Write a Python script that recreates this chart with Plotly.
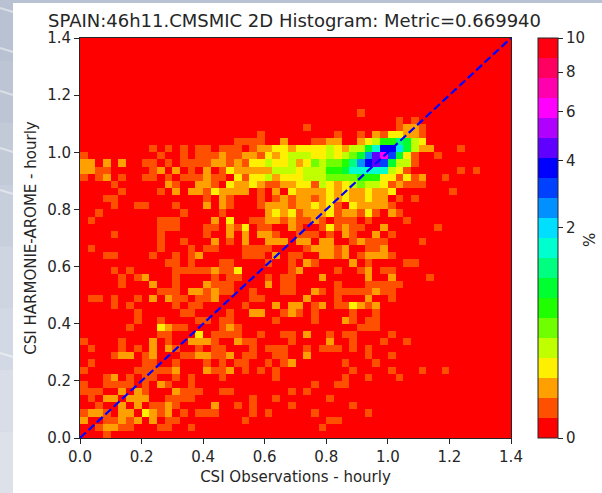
import plotly.graph_objects as go

TITLE = "SPAIN:46h11.CMSMIC 2D Histogram: Metric=0.669940"
X_LABEL = "CSI Observations - hourly"
Y_LABEL = "CSI HARMONIE-AROME - hourly"
AXIS_TICKS = [0.0, 0.2, 0.4, 0.6, 0.8, 1.0, 1.2, 1.4]
CBAR_TICKS = [0, 2, 4, 6, 8, 10]
DIAG_X = [0.0, 1.4]
DIAG_Y = [0.0, 1.4]
N_BINS = 56
BIN_W = 0.025
GAMMA = 0.4
BAND_COLORS = ["#ff0000", "#ff5000", "#ffa000", "#ffef00", "#bfff00", "#70ff00", "#20ff00",
               "#00ff30", "#00ff80", "#00ffcf", "#00dfff", "#0090ff", "#0040ff", "#0000ff",
               "#6000ff", "#b000ff", "#ff00ff", "#ff00af", "#ff0060", "#ff0010"]

# colour band of each non-empty bin: row (from the top) -> {column: band}
BINS = {
    10: {36: 1},
    11: {41: 1, 43: 1},
    12: {29: 1, 41: 1, 42: 2, 43: 2, 44: 1},
    13: {23: 1, 33: 1, 36: 1, 38: 2, 39: 1, 40: 3, 41: 3, 42: 2, 43: 2, 44: 1},
    14: {20: 1, 21: 1, 22: 1, 23: 1, 26: 2, 30: 1, 31: 1, 32: 2, 33: 2, 36: 2, 37: 3, 38: 4, 39: 6, 40: 6, 41: 8, 42: 7, 43: 4, 44: 3},
    15: {9: 1, 11: 1, 13: 1, 15: 1, 16: 1, 18: 1, 19: 1, 20: 1, 22: 1, 23: 2, 24: 2, 25: 3, 26: 3, 27: 2, 28: 3, 29: 3, 30: 3, 31: 3, 32: 4, 33: 3, 34: 2, 35: 4, 36: 4, 37: 7, 38: 9, 39: 13, 40: 13, 41: 10, 42: 7, 43: 4, 44: 2, 45: 2, 49: 1},
    16: {0: 1, 10: 1, 13: 1, 15: 1, 16: 1, 17: 1, 18: 2, 19: 1, 20: 1, 21: 2, 22: 2, 23: 1, 24: 3, 25: 2, 26: 3, 27: 4, 28: 4, 29: 4, 30: 3, 31: 3, 32: 4, 33: 3, 34: 4, 35: 5, 36: 7, 37: 11, 38: 14, 39: 16, 40: 12, 41: 7, 42: 3, 43: 1, 46: 1},
    17: {0: 2, 1: 2, 3: 2, 5: 2, 8: 1, 9: 1, 11: 1, 13: 1, 14: 1, 15: 1, 16: 1, 17: 2, 18: 2, 19: 1, 20: 2, 21: 1, 22: 3, 23: 3, 24: 4, 25: 3, 26: 3, 27: 4, 28: 2, 29: 3, 30: 5, 31: 4, 32: 5, 33: 5, 34: 6, 35: 8, 36: 11, 37: 13, 38: 14, 39: 12, 40: 7, 41: 4, 42: 4, 43: 1},
    18: {0: 2, 1: 2, 2: 1, 3: 1, 9: 1, 10: 2, 12: 2, 14: 1, 16: 2, 18: 1, 19: 3, 20: 2, 21: 2, 22: 2, 23: 2, 24: 2, 25: 4, 26: 4, 27: 4, 28: 3, 29: 4, 30: 4, 31: 4, 32: 6, 33: 6, 34: 7, 35: 9, 36: 9, 37: 9, 38: 9, 39: 9, 40: 4, 41: 3, 42: 1, 49: 1, 51: 1},
    19: {0: 1, 2: 1, 3: 2, 5: 1, 8: 1, 9: 1, 11: 1, 13: 1, 14: 1, 15: 1, 16: 2, 17: 1, 18: 1, 20: 3, 21: 1, 22: 3, 23: 3, 24: 4, 25: 2, 26: 3, 27: 3, 28: 3, 29: 4, 30: 4, 31: 4, 32: 5, 33: 5, 34: 5, 35: 5, 36: 6, 37: 6, 38: 6, 39: 3, 40: 3, 41: 1, 42: 3, 43: 1, 44: 2, 47: 1},
    20: {4: 1, 11: 2, 12: 1, 15: 2, 16: 2, 17: 1, 19: 3, 20: 2, 21: 2, 22: 3, 23: 2, 24: 1, 25: 1, 26: 2, 27: 2, 28: 3, 29: 3, 30: 1, 31: 4, 32: 3, 33: 2, 34: 3, 35: 4, 36: 5, 37: 4, 38: 4, 39: 3, 40: 1, 41: 2, 42: 1, 43: 1, 44: 1},
    21: {5: 1, 10: 1, 12: 2, 14: 2, 15: 2, 16: 1, 17: 3, 18: 2, 19: 2, 20: 2, 21: 2, 23: 1, 25: 2, 27: 3, 28: 2, 29: 2, 30: 2, 31: 2, 32: 3, 33: 2, 34: 3, 35: 2, 36: 2, 37: 3, 38: 2, 39: 2, 40: 3, 48: 1},
    22: {3: 1, 4: 1, 16: 1, 18: 2, 19: 1, 23: 1, 25: 1, 26: 2, 27: 1, 28: 2, 29: 2, 30: 1, 31: 2, 32: 3, 33: 2, 34: 3, 35: 2, 36: 2, 37: 3, 38: 2, 39: 2, 41: 1, 43: 1},
    23: {4: 1, 7: 1, 8: 1, 12: 1, 16: 2, 18: 2, 19: 1, 23: 1, 24: 2, 25: 2, 26: 2, 27: 1, 28: 2, 29: 2, 30: 3, 31: 2, 32: 3, 33: 1, 35: 3, 36: 2, 37: 2, 38: 2, 39: 2, 40: 1},
    24: {2: 1, 13: 1, 18: 1, 24: 2, 25: 3, 26: 2, 27: 3, 28: 1, 29: 2, 30: 2, 31: 2, 32: 3, 33: 1, 34: 2, 35: 2, 36: 1, 37: 3, 38: 1, 40: 2, 41: 1},
    25: {1: 1, 10: 1, 11: 1, 12: 1, 17: 2, 19: 3, 22: 1, 23: 1, 24: 2, 25: 2, 26: 1, 27: 2, 28: 1, 29: 1, 30: 2, 31: 1, 33: 1, 34: 1, 35: 1, 37: 1, 42: 1},
    26: {10: 1, 11: 1, 12: 1, 16: 1, 17: 1, 19: 2, 20: 1, 21: 3, 23: 1, 24: 1, 27: 2, 28: 1, 31: 1, 32: 3, 33: 1, 34: 2, 35: 1, 36: 1, 39: 2, 46: 1},
    27: {4: 1, 10: 1, 16: 1, 19: 2, 21: 2, 23: 2, 24: 2, 25: 1, 28: 1, 29: 1, 30: 1, 32: 1, 34: 2, 35: 1, 38: 2, 40: 1},
    28: {10: 1, 13: 1, 17: 2, 19: 1, 21: 2, 24: 2, 25: 2, 26: 2, 28: 2, 29: 2, 31: 2, 32: 2, 35: 1, 36: 2, 37: 1, 38: 1, 39: 1, 44: 1},
    29: {1: 1, 10: 1, 14: 1, 16: 1, 17: 1, 21: 1, 22: 1, 23: 1, 24: 1, 29: 1, 30: 2, 31: 2, 32: 2, 33: 1, 34: 2, 37: 1, 38: 1, 39: 2},
    30: {3: 1, 4: 1, 9: 1, 12: 1, 14: 1, 15: 2, 21: 1, 22: 1, 23: 1, 25: 2, 27: 1, 28: 1, 31: 2, 32: 2, 33: 1, 34: 2, 36: 1, 37: 2, 38: 2, 39: 2, 40: 1},
    31: {11: 1, 12: 1, 14: 1, 18: 1, 19: 1, 24: 1, 27: 1, 29: 2, 30: 1, 35: 2, 37: 1, 42: 1, 43: 1},
    32: {4: 1, 6: 1, 12: 1, 13: 1, 14: 1, 15: 1, 16: 1, 17: 2, 18: 1, 19: 1, 20: 3, 27: 1, 28: 2, 33: 1, 36: 1, 37: 2, 39: 1, 40: 1},
    33: {5: 1, 7: 1, 8: 2, 12: 1, 17: 1, 19: 1, 20: 1, 24: 1, 26: 1, 27: 1, 31: 2, 37: 2, 40: 2, 45: 1},
    34: {5: 1, 9: 2, 12: 1, 16: 2, 17: 1, 18: 1, 19: 1, 24: 2, 26: 1, 27: 1, 33: 1, 37: 1, 38: 1, 39: 1, 40: 1, 41: 1},
    35: {10: 1, 11: 1, 12: 1, 14: 2, 15: 2, 16: 1, 17: 2, 18: 1, 19: 1, 22: 1, 26: 1, 27: 1, 30: 2, 31: 1, 33: 1, 34: 1, 35: 1, 36: 1, 37: 1, 38: 2, 39: 1, 40: 1},
    36: {1: 1, 2: 1, 4: 1, 7: 1, 9: 2, 11: 2, 12: 1, 13: 1, 15: 1, 16: 1, 17: 2, 22: 1, 23: 1, 29: 2, 33: 1, 37: 2, 40: 1},
    37: {4: 1, 6: 1, 12: 1, 14: 1, 15: 1, 21: 1, 25: 2, 27: 2, 28: 2, 30: 1, 31: 2, 33: 1, 34: 1, 35: 3, 36: 2, 37: 1, 38: 2},
    38: {7: 1, 13: 1, 14: 1, 19: 1, 22: 2, 23: 2, 26: 1, 27: 2, 28: 1, 30: 1, 35: 1, 38: 1},
    39: {7: 1, 10: 1, 15: 1, 16: 1, 18: 1, 19: 1, 25: 1, 30: 1, 34: 2, 35: 1, 37: 1, 38: 1},
    40: {6: 1, 10: 3, 11: 2, 12: 1, 13: 1, 18: 1, 19: 2, 20: 1, 36: 1, 37: 1, 38: 1},
    41: {10: 1, 11: 1, 15: 3, 17: 1, 18: 1, 19: 1, 20: 1, 23: 1, 26: 1, 27: 1, 29: 2, 32: 1, 34: 1, 35: 1, 40: 1},
    42: {0: 1, 5: 1, 9: 2, 11: 1, 14: 2, 15: 2, 16: 2, 17: 1, 20: 2, 21: 1, 22: 1, 27: 1, 32: 2, 35: 1, 39: 1, 42: 1},
    43: {1: 1, 5: 1, 7: 1, 9: 2, 11: 2, 12: 1, 15: 1, 17: 1, 18: 1, 22: 1, 24: 1, 25: 1, 26: 1, 29: 1, 31: 1, 32: 1, 33: 1, 35: 1, 37: 1},
    44: {4: 1, 5: 2, 6: 2, 8: 1, 9: 2, 13: 1, 14: 1, 15: 2, 16: 2, 17: 1, 18: 1, 19: 2, 21: 1, 22: 1, 25: 1, 26: 1, 29: 2, 37: 1, 40: 1},
    45: {1: 1, 8: 1, 9: 1, 12: 1, 16: 1, 18: 1, 20: 1, 21: 1, 24: 1, 26: 1, 27: 2, 34: 1, 38: 1},
    46: {0: 1, 7: 1, 8: 1, 9: 1, 10: 1, 11: 1, 12: 2, 16: 2, 17: 1, 18: 1, 19: 2, 21: 1, 23: 1, 25: 1, 35: 1, 40: 1, 44: 1, 47: 1},
    47: {3: 1, 4: 2, 6: 1, 8: 1, 9: 1, 12: 1, 14: 1, 18: 1, 25: 1, 34: 1, 37: 1, 41: 1},
    48: {0: 1, 3: 1, 4: 1, 5: 1, 6: 1, 8: 1, 10: 2, 11: 1, 14: 1, 30: 1, 33: 1, 34: 1},
    49: {0: 1, 1: 1, 2: 1, 5: 2, 7: 2, 8: 1, 12: 2, 13: 1, 14: 1, 15: 1, 18: 1, 19: 1, 27: 1, 29: 1},
    50: {1: 1, 3: 2, 4: 2, 6: 2, 7: 2, 8: 2, 11: 1, 12: 1, 13: 1, 14: 1, 22: 1, 25: 1, 32: 1},
    51: {2: 1, 5: 2, 7: 2, 9: 1, 10: 1, 11: 2, 12: 1, 17: 2, 20: 1, 22: 1, 27: 1, 35: 1},
    52: {0: 1, 1: 2, 2: 2, 3: 1, 5: 2, 6: 2, 8: 3, 9: 2, 10: 1, 11: 2, 13: 1, 15: 1, 16: 1, 17: 1, 22: 1, 24: 1, 30: 1, 37: 1},
    53: {0: 2, 3: 1, 4: 1, 5: 2, 6: 1, 7: 2, 9: 2, 11: 1, 12: 1, 21: 1, 32: 1, 33: 1},
    54: {2: 1, 3: 2, 4: 2, 5: 1, 6: 1, 10: 1, 11: 1, 14: 1, 31: 1},
    55: {3: 1},
}

W, H = 602, 493
AX_L, AX_R, AX_T, AX_B = 80, 511, 38, 438
CB_L, CB_W = 538, 20
SHEET_L, SHEET_T = 13, 3
FONT = "DejaVu Sans"
INK = "#262626"
TICK_SIZE = 15
TITLE_SIZE = 18
BACKDROP = ["#b9c2d2", "#bdc5d4", "#c2cad8", "#c8cfdc", "#ced4e0", "#d3d9e4", "#d8dde8", "#dce1ea"]
STREAK_Y = [10, 50, 93, 150, 192, 355]

centers = [BIN_W * (i + 0.5) for i in range(N_BINS)]
z = [[BINS.get(N_BINS - 1 - r, {}).get(c, 0) + 0.5 for c in range(N_BINS)] for r in range(N_BINS)]
n = len(BAND_COLORS)
scale = []
for i, col in enumerate(BAND_COLORS):
    scale += [[i / n, col], [(i + 1) / n, col]]

fig = go.Figure()
fig.add_trace(go.Heatmap(
    x=centers, y=centers, z=z, zmin=0, zmax=n, colorscale=scale, hoverinfo="skip",
    colorbar=dict(
        thickness=CB_W, thicknessmode="pixels", len=AX_B - AX_T, lenmode="pixels",
        x=CB_L / W, xanchor="left", y=1 - AX_B / H, yanchor="bottom", xpad=0, ypad=0,
        tickmode="array", tickvals=[n * (t / 10) ** GAMMA for t in CBAR_TICKS],
        ticktext=[str(t) for t in CBAR_TICKS], ticks="outside", ticklen=5, tickcolor=INK,
        tickfont=dict(family=FONT, size=TICK_SIZE, color=INK), outlinecolor=INK, outlinewidth=1,
    ),
))
fig.add_trace(go.Scatter(x=DIAG_X, y=DIAG_Y, mode="lines", hoverinfo="skip",
                         line=dict(color="#0000ff", width=2.2, dash="8px,3.5px"), showlegend=False))

axis_common = dict(
    range=[0, 1.4], tickmode="array", tickvals=AXIS_TICKS, ticktext=[f"{t:.1f}" for t in AXIS_TICKS],
    ticks="outside", ticklen=5, tickcolor=INK, showgrid=False, zeroline=False, automargin=False,
    showline=True, linecolor=INK, linewidth=1, mirror=True,
    tickfont=dict(family=FONT, size=TICK_SIZE, color=INK),
)

shapes = []
for i, col in enumerate(BACKDROP):
    shapes.append(dict(type="rect", xref="paper", yref="paper", layer="below", line_width=0, fillcolor=col,
                       x0=0, x1=1, y0=1 - (i + 1) / len(BACKDROP), y1=1 - i / len(BACKDROP)))
for y in STREAK_Y:
    shapes.append(dict(type="line", xref="paper", yref="paper", layer="below",
                       line=dict(color="rgba(255,255,255,0.45)", width=2),
                       x0=0, x1=SHEET_L / W, y0=1 - (y - 2) / H, y1=1 - (y + 2) / H))
shapes.append(dict(type="rect", xref="paper", yref="paper", layer="below", line_width=0, fillcolor="#ffffff",
                   x0=SHEET_L / W, x1=1, y0=0, y1=1 - SHEET_T / H))

fig.update_layout(
    width=W, height=H, autosize=False, showlegend=False,
    margin=dict(l=0, r=0, t=0, b=0),
    paper_bgcolor="#c8cfdc", plot_bgcolor="#ff0000", shapes=shapes,
    font=dict(family=FONT, color=INK),
    xaxis=dict(axis_common, domain=[AX_L / W, AX_R / W],
               title=dict(text=X_LABEL, font=dict(family=FONT, size=TICK_SIZE, color=INK), standoff=6)),
    yaxis=dict(axis_common, domain=[1 - AX_B / H, 1 - AX_T / H],
               title=dict(text=Y_LABEL, font=dict(family=FONT, size=TICK_SIZE, color=INK), standoff=6)),
    title=dict(text=TITLE, font=dict(family=FONT, size=TITLE_SIZE, color=INK), x=294.5 / W, xanchor="center",
               y=1 - 21 / H, yanchor="middle"),
    annotations=[dict(text="%", xref="paper", yref="paper", x=590 / W, xanchor="center",
                      y=1 - 240 / H, yanchor="middle", showarrow=False, textangle=-90,
                      font=dict(family=FONT, size=TICK_SIZE, color=INK))],
)
fig.write_html("out.html", config={"displayModeBar": False}, post_script="document.body.style.margin='0';")
